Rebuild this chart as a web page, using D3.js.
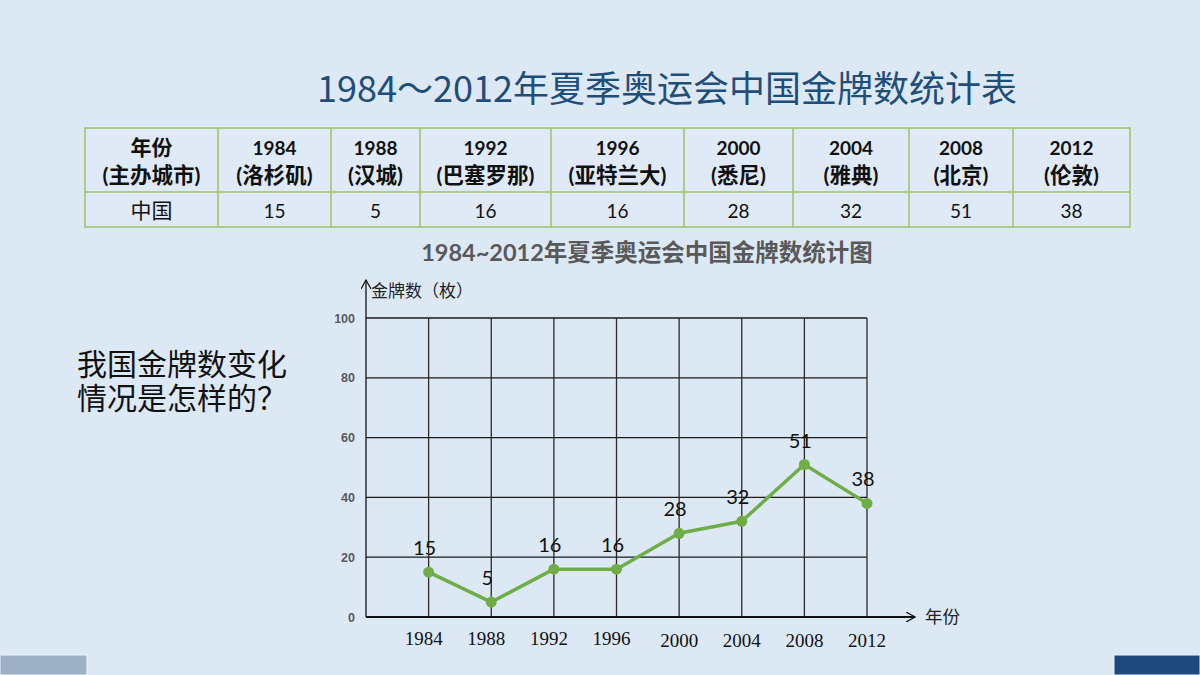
<!DOCTYPE html>
<html>
<head>
<meta charset="utf-8">
<script src="https://cdn.jsdelivr.net/npm/d3@7"></script>
<style>
  body { margin: 0; background: #dde8f5; }
  svg { display: block; }
</style>
</head>
<body>
<svg id="slide" width="1200" height="675"></svg>
<script>
// table / chart data
const years = ['1984', '1988', '1992', '1996', '2000', '2004', '2008', '2012'];
const cities = ['洛杉矶', '汉城', '巴塞罗那', '亚特兰大', '悉尼', '雅典', '北京', '伦敦'];
const golds = [15, 5, 16, 16, 28, 32, 51, 38];
const yTicks = [0, 20, 40, 60, 80, 100];

const svg = d3.select('#slide');
const CJK = "'Noto Sans CJK SC', sans-serif";
const LATIN_CJK = "Lato, 'Noto Sans CJK SC', sans-serif";
const hasCJK = s => /[\u4e00-\u9fff]/.test(s);

svg.append('rect').attr('width', 1200).attr('height', 675).attr('fill', '#dde8f5');

// slide title
svg.append('text')
    .attr('x', 667).attr('y', 102)
    .attr('text-anchor', 'middle')
    .attr('font-family', CJK)
    .attr('font-size', 36)
    .attr('fill', '#1f4e79')
    .text('1984～2012年夏季奥运会中国金牌数统计表');

// ---- table ----
const colEdges = [85, 218, 331, 420, 551, 684, 793, 909, 1013, 1130];
const rowTop = 128, rowMid = 192, rowBot = 227;
const tbl = svg.append('g');

tbl.append('rect')
    .attr('x', colEdges[0]).attr('y', rowTop)
    .attr('width', colEdges[colEdges.length - 1] - colEdges[0])
    .attr('height', rowBot - rowTop)
    .attr('fill', '#dfeaf6')
    .attr('stroke', '#9bc36a').attr('stroke-width', 1.5);

tbl.append('line')
    .attr('x1', colEdges[0]).attr('x2', colEdges[colEdges.length - 1])
    .attr('y1', rowMid).attr('y2', rowMid)
    .attr('stroke', '#9bc36a').attr('stroke-width', 1.5);

tbl.selectAll('line.col')
    .data(colEdges.slice(1, -1))
    .join('line')
    .attr('class', 'col')
    .attr('x1', d => d).attr('x2', d => d)
    .attr('y1', rowTop).attr('y2', rowBot)
    .attr('stroke', '#9bc36a').attr('stroke-width', 1.5);

const headTop = ['年份'].concat(years);
const headBot = ['(主办城市)'].concat(cities.map(c => '(' + c + ')'));
const rowVals = ['中国'].concat(golds.map(String));
const colMid = i => (colEdges[i] + colEdges[i + 1]) / 2;

tbl.selectAll('text.h1')
    .data(headTop)
    .join('text')
    .attr('class', 'h1')
    .attr('x', (d, i) => colMid(i)).attr('y', 155)
    .attr('text-anchor', 'middle')
    .attr('font-family', LATIN_CJK)
    .attr('font-weight', 'bold')
    .attr('font-size', d => hasCJK(d) ? 21 : 19)
    .attr('fill', '#111')
    .text(d => d);

tbl.selectAll('text.h2')
    .data(headBot)
    .join('text')
    .attr('class', 'h2')
    .attr('x', (d, i) => colMid(i)).attr('y', 183)
    .attr('text-anchor', 'middle')
    .attr('font-family', LATIN_CJK)
    .attr('font-weight', 'bold')
    .attr('font-size', 21.5)
    .attr('fill', '#111')
    .text(d => d);

tbl.selectAll('text.v')
    .data(rowVals)
    .join('text')
    .attr('class', 'v')
    .attr('x', (d, i) => colMid(i)).attr('y', 218)
    .attr('text-anchor', 'middle')
    .attr('font-family', LATIN_CJK)
    .attr('font-size', d => hasCJK(d) ? 21 : 19)
    .attr('fill', '#111')
    .text(d => d);

// chart title
svg.append('text')
    .attr('x', 647).attr('y', 261)
    .attr('text-anchor', 'middle')
    .attr('font-family', LATIN_CJK)
    .attr('font-weight', 'bold')
    .attr('font-size', 23.5)
    .attr('fill', '#595959')
    .text('1984~2012年夏季奥运会中国金牌数统计图');

// question on the left
const q = svg.append('text')
    .attr('font-family', CJK)
    .attr('font-size', 30)
    .attr('fill', '#111');
q.append('tspan').attr('x', 77).attr('y', 375).text('我国金牌数变化');
q.append('tspan').attr('x', 77).attr('y', 409).text('情况是怎样的？');

// ---- line chart ----
const x = d3.scaleLinear().domain([0, years.length]).range([366, 867]);
const y = d3.scaleLinear().domain([0, 100]).range([617, 318]);
const chart = svg.append('g');

// horizontal grid
chart.append('g')
    .selectAll('line')
    .data(yTicks.slice(1))
    .join('line')
    .attr('x1', x(0)).attr('x2', x(years.length))
    .attr('y1', d => y(d)).attr('y2', d => y(d))
    .attr('stroke', '#1a1a1a').attr('stroke-width', 1.3);

// vertical grid
chart.append('g')
    .selectAll('line')
    .data(d3.range(1, years.length + 1))
    .join('line')
    .attr('x1', d => x(d)).attr('x2', d => x(d))
    .attr('y1', y(100)).attr('y2', y(0))
    .attr('stroke', '#2a2a2a').attr('stroke-width', 1.3);

// axes with arrows
const defs = svg.append('defs');
defs.append('marker')
    .attr('id', 'arrow')
    .attr('viewBox', '0 0 10 10')
    .attr('refX', 9).attr('refY', 5)
    .attr('markerWidth', 10).attr('markerHeight', 10)
    .attr('markerUnits', 'userSpaceOnUse')
    .attr('orient', 'auto')
    .append('path')
    .attr('d', 'M0,0 L9,5 L0,10')
    .attr('fill', 'none')
    .attr('stroke', '#111')
    .attr('stroke-width', 1.2);

chart.append('line')
    .attr('x1', x(0)).attr('x2', x(0))
    .attr('y1', y(0)).attr('y2', 280)
    .attr('stroke', '#111').attr('stroke-width', 1.3)
    .attr('marker-end', 'url(#arrow)');

chart.append('line')
    .attr('x1', x(0)).attr('x2', 915)
    .attr('y1', y(0)).attr('y2', y(0))
    .attr('stroke', '#111').attr('stroke-width', 2)
    .attr('marker-end', 'url(#arrow)');

chart.append('text')
    .attr('x', 371).attr('y', 297)
    .attr('font-family', CJK)
    .attr('font-size', 17)
    .attr('fill', '#222')
    .text('金牌数（枚）');

chart.append('text')
    .attr('x', 925).attr('y', 623)
    .attr('font-family', CJK)
    .attr('font-size', 17.5)
    .attr('fill', '#222')
    .text('年份');

// y tick labels
chart.append('g')
    .selectAll('text')
    .data(yTicks)
    .join('text')
    .attr('x', 355).attr('y', d => y(d) + 4.5)
    .attr('text-anchor', 'end')
    .attr('font-family', "'Liberation Sans', Arial, sans-serif")
    .attr('font-weight', 'bold')
    .attr('font-size', 12.5)
    .attr('fill', '#595959')
    .text(d => d);

// x tick labels
chart.append('g')
    .selectAll('text')
    .data(years)
    .join('text')
    .attr('x', (d, i) => x(i + 1) - (i < 4 ? 5 : 0))
    .attr('y', (d, i) => i >= 4 ? 647 : 645)
    .attr('text-anchor', 'middle')
    .attr('font-family', "'Liberation Serif', serif")
    .attr('font-size', 19)
    .attr('fill', '#111')
    .text(d => d);

// data line
chart.append('path')
    .datum(golds)
    .attr('fill', 'none')
    .attr('stroke', '#70ad47')
    .attr('stroke-width', 3.5)
    .attr('stroke-linejoin', 'round')
    .attr('d', d3.line().x((d, i) => x(i + 1)).y(d => y(d)));

chart.append('g')
    .selectAll('circle')
    .data(golds)
    .join('circle')
    .attr('cx', (d, i) => x(i + 1))
    .attr('cy', d => y(d))
    .attr('r', 5.5)
    .attr('fill', '#70ad47');

chart.append('g')
    .selectAll('text')
    .data(golds)
    .join('text')
    .attr('x', (d, i) => x(i + 1) - 4)
    .attr('y', d => y(d) - 17)
    .attr('text-anchor', 'middle')
    .attr('font-family', "Lato, 'Liberation Sans', sans-serif")
    .attr('font-size', 20)
    .attr('fill', '#111')
    .text(d => d);

// corner bars
svg.append('rect')
    .attr('x', 0).attr('y', 655).attr('width', 87).attr('height', 20)
    .attr('fill', '#9eb0c5').attr('stroke', '#f0f5fb').attr('stroke-width', 1);
svg.append('rect')
    .attr('x', 1114).attr('y', 655).attr('width', 86).attr('height', 20)
    .attr('fill', '#1f497d').attr('stroke', '#f0f5fb').attr('stroke-width', 1);
</script>
</body>
</html>
